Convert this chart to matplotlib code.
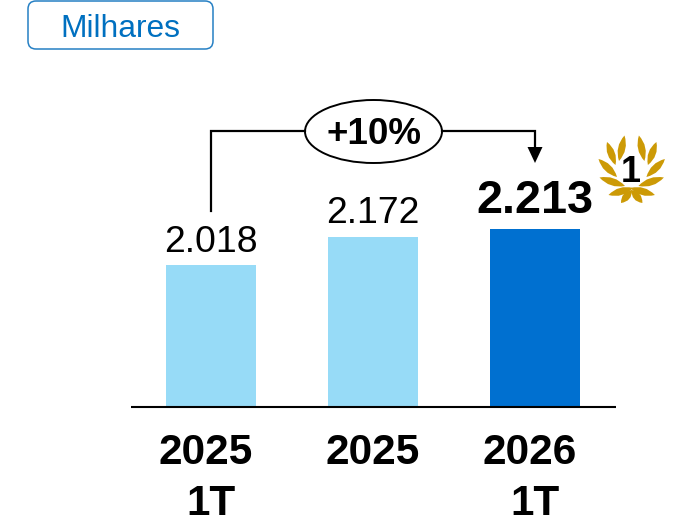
import matplotlib
matplotlib.use('Agg')
import matplotlib.pyplot as plt
from matplotlib.patches import Ellipse, FancyBboxPatch, PathPatch, Polygon
from matplotlib.path import Path

plt.rcParams['font.family'] = ['Liberation Sans', 'DejaVu Sans']

years = ['2025', '2025', '2026']
quarters = ['1T', '', '1T']
values = [2018, 2172, 2213]
value_labels = ['2.018', '2.172', '2.213']
growth_label = '+10%'
unit_label = 'Milhares'
rank_label = '1'

LIGHT = '#97DBF7'
DARK = '#0070D0'
BLUE = '#0070C0'
GOLD = '#CC9A06'

fig = plt.figure(figsize=(6.82, 5.2), dpi=100)

# bars: the value axis is truncated, baseline sits at y=407 px
ax = fig.add_axes([131 / 682, (520 - 407) / 520, 484.5 / 682, 407 / 520])
ax.set_xlim(-0.494, 2.494)
ax.set_ylim(1249, 1249 + 407 / 0.1846)
ax.patch.set_alpha(0)
ax.bar(range(3), values, width=0.556, color=[LIGHT, LIGHT, DARK])
for side in ['top', 'left', 'right']:
    ax.spines[side].set_visible(False)
ax.spines['bottom'].set_linewidth(1.5)
ax.spines['bottom'].set_capstyle('butt')
ax.set_yticks([])
ax.set_xticks([])

pads = [13, 14, 16]
for i, v in enumerate(values):
    bold = i == 2
    ax.annotate(value_labels[i], (i, v), xytext=(0, pads[i] * 0.72), textcoords='offset points',
                ha='center', va='baseline', fontsize=33.7 if bold else 26.9,
                fontweight='bold' if bold else 'normal', color='black')

# category labels, hand nudged like the original slide
year_dx = [-5, -1, -6]
quarter_dx = [0, 0, 0]
for i in range(3):
    ax.annotate(years[i], (i, 0), xycoords=('data', 'axes fraction'),
                xytext=(year_dx[i] * 0.72, -57 * 0.72), textcoords='offset points',
                ha='center', va='baseline', fontsize=30.4, fontweight='bold')
    ax.annotate(quarters[i], (i, 0), xycoords=('data', 'axes fraction'),
                xytext=(quarter_dx[i] * 0.72, -108 * 0.72), textcoords='offset points',
                ha='center', va='baseline', fontsize=30.4, fontweight='bold',
                annotation_clip=False)

# overlay in pixel coordinates for the callouts
ov = fig.add_axes([0, 0, 1, 1])
ov.set_xlim(0, 682)
ov.set_ylim(520, 0)
ov.axis('off')
ov.patch.set_alpha(0)

ov.add_patch(FancyBboxPatch((28, 1), 185, 48, boxstyle='round,pad=0,rounding_size=8',
                            edgecolor='#2680C4', facecolor='white', linewidth=1.1))
ov.text(120.5, 37, unit_label, ha='center', va='baseline', fontsize=22.9, color=BLUE)

ov.plot([211, 211, 305], [211, 131, 131], color='black', lw=1.6, solid_joinstyle='miter')
ov.plot([442, 535, 535], [131, 131, 148], color='black', lw=1.6, solid_joinstyle='miter')
ov.add_patch(Polygon([[527.5, 147], [542.5, 147], [535, 163]], closed=True, color='black', lw=0))
ov.add_patch(Ellipse((373.5, 131.5), 137, 63, facecolor='white', edgecolor='black', lw=1.4))
ov.text(374, 144.5, growth_label, ha='center', va='baseline', fontsize=26.5, fontweight='bold')


def leaf(base, tip, bulge):
    # lens shape between base and tip
    bx, by = base
    tx, ty = tip
    mx, my = (bx + tx) / 2, (by + ty) / 2
    nx, ny = -(ty - by), tx - bx
    ln = (nx ** 2 + ny ** 2) ** 0.5
    nx, ny = nx / ln * bulge, ny / ln * bulge
    verts = [base, (mx + nx, my + ny), tip, (mx - nx, my - ny), base]
    codes = [Path.MOVETO, Path.CURVE3, Path.CURVE3, Path.CURVE3, Path.CURVE3]
    return PathPatch(Path(verts, codes), facecolor=GOLD, edgecolor='none')


leaves = [((619, 161), (624.5, 135.5)), ((615.5, 165), (607, 142)), ((617, 177), (598.5, 159)),
          ((625, 186), (599.5, 177.5)), ((633, 188), (608.5, 195)), ((632, 190), (621, 203))]
cx = 631.7
for b, t in leaves:
    ov.add_patch(leaf(b, t, 7.5))
    ov.add_patch(leaf((2 * cx - b[0], b[1]), (2 * cx - t[0], t[1]), 7.5))
ov.text(630.5, 181.5, rank_label, ha='center', va='baseline', fontsize=26, fontweight='bold')

fig.savefig('out.png', dpi=100)
